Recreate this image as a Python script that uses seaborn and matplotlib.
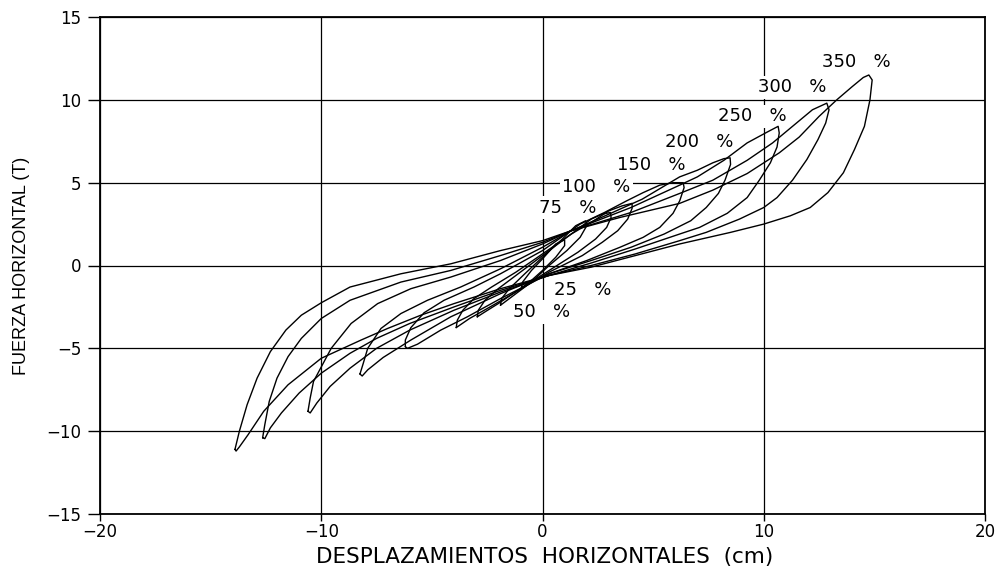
import matplotlib
matplotlib.use("Agg")
import matplotlib.pyplot as plt
import pandas as pd
import seaborn as sns

# ---- loop data (x = cm, y = T); upper branch then lower branch ----
loop_350 = [(-13.9, -11.1), (-13.7, -10.0), (-13.35, -8.4), (-12.9, -6.8), (-12.3, -5.2), (-11.6, -3.9),
            (-10.9, -3.0), (-10.0, -2.25), (-8.7, -1.3), (-6.4, -0.5), (-4.15, 0.1), (-1.9, 0.9), (0.0, 1.5),
            (1.3, 2.1), (3.5, 2.9), (6.2, 3.75), (7.7, 4.55), (9.25, 5.55), (10.7, 6.8), (11.6, 7.75),
            (12.5, 9.0), (13.3, 10.0), (14.0, 10.8), (14.5, 11.35), (14.75, 11.5),
            (14.9, 11.2), (14.8, 10.0), (14.55, 8.4), (14.1, 7.0), (13.6, 5.6), (12.9, 4.4), (12.1, 3.5),
            (11.2, 3.0), (10.0, 2.5), (8.5, 2.0), (6.2, 1.3), (4.2, 0.6), (2.2, -0.1), (0.3, -0.6),
            (-1.9, -1.4), (-4.0, -2.3), (-5.5, -3.0), (-7.0, -3.8), (-8.2, -4.5), (-10.0, -5.6),
            (-11.5, -7.2), (-12.6, -8.8), (-13.3, -10.2), (-13.7, -10.95), (-13.85, -11.2), (-13.9, -11.1)]
loop_300 = [(-12.65, -10.4), (-12.55, -9.6), (-12.35, -8.2), (-12.0, -6.8), (-11.5, -5.5), (-10.9, -4.4),
            (-10.0, -3.2), (-8.7, -2.1), (-6.4, -1.0), (-4.15, -0.3), (-1.9, 0.6), (0.0, 1.4), (1.3, 2.1),
            (4.0, 3.2), (6.2, 4.35), (7.7, 5.15), (9.25, 6.35), (10.4, 7.4), (11.3, 8.4), (12.2, 9.4),
            (12.85, 9.8),
            (12.95, 9.4), (12.8, 8.6), (12.45, 7.6), (11.95, 6.4), (11.3, 5.15), (10.6, 4.1), (10.0, 3.5),
            (8.9, 2.8), (7.4, 2.0), (6.2, 1.5), (4.2, 0.7), (2.2, 0.0), (0.3, -0.6), (-1.9, -1.5),
            (-4.0, -2.5), (-6.0, -3.5), (-7.5, -4.4), (-8.7, -5.3), (-10.0, -6.5), (-11.0, -7.7),
            (-11.8, -8.9), (-12.3, -9.8), (-12.55, -10.45), (-12.65, -10.4)]
loop_250 = [(-10.6, -8.8), (-10.5, -8.0), (-10.35, -7.0), (-10.15, -6.5), (-9.55, -5.0), (-8.65, -3.5),
            (-7.45, -2.3), (-5.95, -1.4), (-4.15, -0.7), (-1.9, 0.3), (0.0, 1.3), (1.3, 2.1), (4.0, 3.5),
            (6.2, 4.85), (7.0, 5.35), (8.2, 6.35), (9.25, 7.4), (10.15, 8.05), (10.65, 8.4),
            (10.7, 8.0), (10.6, 7.15), (10.3, 6.2), (9.8, 5.15), (9.25, 4.1), (8.35, 3.15), (7.1, 2.3),
            (6.2, 1.9), (4.2, 1.0), (2.2, 0.15), (0.3, -0.6), (-1.9, -1.6), (-4.0, -2.7), (-6.0, -3.9),
            (-7.5, -5.0), (-8.7, -6.2), (-9.6, -7.3), (-10.2, -8.3), (-10.5, -8.9), (-10.6, -8.8)]
loop_200 = [(-8.25, -6.55), (-8.1, -5.9), (-7.9, -5.0), (-7.3, -3.8), (-6.4, -2.9), (-5.2, -2.1),
            (-3.7, -1.3), (-1.9, -0.2), (0.0, 1.1), (1.3, 2.1), (3.0, 3.1), (4.5, 4.0), (6.2, 5.35),
            (7.0, 5.75), (7.7, 6.2), (8.2, 6.45), (8.48, 6.5),
            (8.5, 6.1), (8.25, 5.15), (7.95, 4.35), (7.4, 3.5), (6.7, 2.7), (5.5, 1.9), (4.0, 1.1),
            (2.2, 0.3), (0.3, -0.5), (-1.9, -1.7), (-4.15, -3.1), (-5.95, -4.5), (-7.2, -5.55),
            (-7.9, -6.3), (-8.15, -6.67), (-8.25, -6.55)]
loop_150 = [(-6.2, -4.9), (-6.2, -4.5), (-5.95, -3.75), (-5.35, -2.85), (-4.45, -2.1), (-3.1, -1.3),
            (-1.9, -0.5), (0.0, 0.9), (1.7, 2.5), (2.8, 3.2), (3.8, 3.9), (4.55, 4.4), (5.3, 4.85),
            (5.9, 5.0), (6.36, 5.0),
            (6.4, 4.7), (6.2, 3.9), (5.9, 3.15), (5.3, 2.3), (4.55, 1.7), (3.5, 1.1), (2.0, 0.3),
            (0.3, -0.5), (-1.9, -2.0), (-3.4, -3.1), (-4.6, -3.9), (-5.65, -4.75), (-6.1, -5.0), (-6.2, -4.9)]
loop_100 = [(-3.9, -3.75), (-3.85, -3.3), (-3.6, -2.7), (-3.1, -2.0), (-2.3, -1.3), (-1.2, -0.4),
            (0.0, 0.7), (1.3, 1.9), (2.2, 2.6), (3.0, 3.3), (3.6, 3.6), (4.05, 3.75),
            (4.05, 3.45), (3.85, 2.8), (3.4, 2.1), (2.7, 1.4), (1.8, 0.6), (0.3, -0.4), (-1.2, -1.6),
            (-2.5, -2.6), (-3.3, -3.2), (-3.9, -3.75)]
loop_75 = [(-2.95, -3.1), (-2.9, -2.7), (-2.6, -2.1), (-2.0, -1.4), (-1.0, -0.4), (0.0, 0.6), (1.2, 1.8),
           (2.2, 2.8), (2.7, 3.1), (3.07, 3.2),
           (3.1, 2.9), (2.9, 2.3), (2.4, 1.6), (1.6, 0.8), (0.3, -0.3), (-1.0, -1.4), (-2.0, -2.3),
           (-2.6, -2.8), (-2.95, -3.1)]
loop_50 = [(-1.9, -2.4), (-1.85, -2.0), (-1.5, -1.4), (-0.8, -0.5), (0.0, 0.5), (0.9, 1.6), (1.5, 2.4),
           (1.95, 2.7),
           (2.0, 2.4), (1.7, 1.7), (1.1, 0.9), (0.3, 0.0), (-0.5, -1.0), (-1.3, -1.8), (-1.9, -2.4)]
loop_25 = [(-0.95, -1.35), (-0.9, -1.0), (-0.5, -0.3), (0.0, 0.4), (0.6, 1.3), (1.0, 1.55),
           (1.0, 1.2), (0.6, 0.5), (0.0, -0.3), (-0.5, -0.9), (-0.95, -1.35)]

loop_names = ["350 %", "300 %", "250 %", "200 %", "150 %", "100 %", "75 %", "50 %", "25 %"]
loop_points = [loop_350, loop_300, loop_250, loop_200, loop_150, loop_100, loop_75, loop_50, loop_25]

# label anchor positions (data coords)
label_x = [14.2, 11.3, 9.5, 7.1, 4.93, 2.44, 1.13, -0.05, 1.8]
label_y = [12.3, 10.75, 9.0, 7.45, 6.05, 4.75, 3.5, -2.8, -1.45]

x_ticks = [-20, -10, 0, 10, 20]
y_ticks = [-15, -10, -5, 0, 5, 10, 15]
x_title = "DESPLAZAMIENTOS  HORIZONTALES  (cm)"
y_title = "FUERZA HORIZONTAL (T)"

# ---- build long table ----
rows = []
for name, pts in zip(loop_names, loop_points):
    for i, (x, y) in enumerate(pts):
        rows.append({"loop": name, "order": i, "x": x, "y": y})
df = pd.DataFrame(rows)

sns.set_theme(style="white")
plt.rcParams['font.family'] = ['DejaVu Sans']
plt.rcParams.update({"text.color": "black", "axes.labelcolor": "black",
                     "xtick.color": "black", "ytick.color": "black"})

fig = plt.figure(figsize=(9.99, 5.70), dpi=100)
ax = fig.add_axes([100 / 999, 1 - 514 / 570, 885 / 999, 497 / 570])

sns.lineplot(data=df, x="x", y="y", units="loop", estimator=None, sort=False,
             color="black", lw=1.0, ax=ax, legend=False, zorder=4)

ax.set_xlim(-20, 20)
ax.set_ylim(-15, 15)
ax.set_xticks(x_ticks)
ax.set_yticks(y_ticks)
ax.grid(True, color="black", lw=0.9)
ax.set_axisbelow(True)
for s in ax.spines.values():
    s.set_color("black")
    s.set_linewidth(1.3)
ax.tick_params(axis="y", direction="out", length=8.5, width=1.0, color="black",
               labelsize=12, pad=5, left=True, labelcolor="black")
ax.tick_params(axis="x", direction="out", length=5, width=1.0, color="black",
               labelsize=12, pad=1.5, bottom=True, labelcolor="black")

ax.set_xlabel(x_title, fontsize=15.5, color="black")
ax.set_ylabel(y_title, fontsize=13, family=["Liberation Sans", "DejaVu Sans"], color="black")
ax.xaxis.label.set(va="center", ha="center")
ax.yaxis.label.set(va="center", ha="center")
ax.xaxis.set_label_coords((545 - 100) / 885, (514 - 557) / 497)
ax.yaxis.set_label_coords((22 - 100) / 885, 0.5)

for name, lx, ly in zip(loop_names, label_x, label_y):
    ax.text(lx, ly, name.replace(" ", "   "), ha="center", va="center", fontsize=13,
            color="black", bbox=dict(facecolor="white", edgecolor="none", pad=2.0), zorder=3)

fig.savefig("out.png", dpi=100, facecolor="white")
